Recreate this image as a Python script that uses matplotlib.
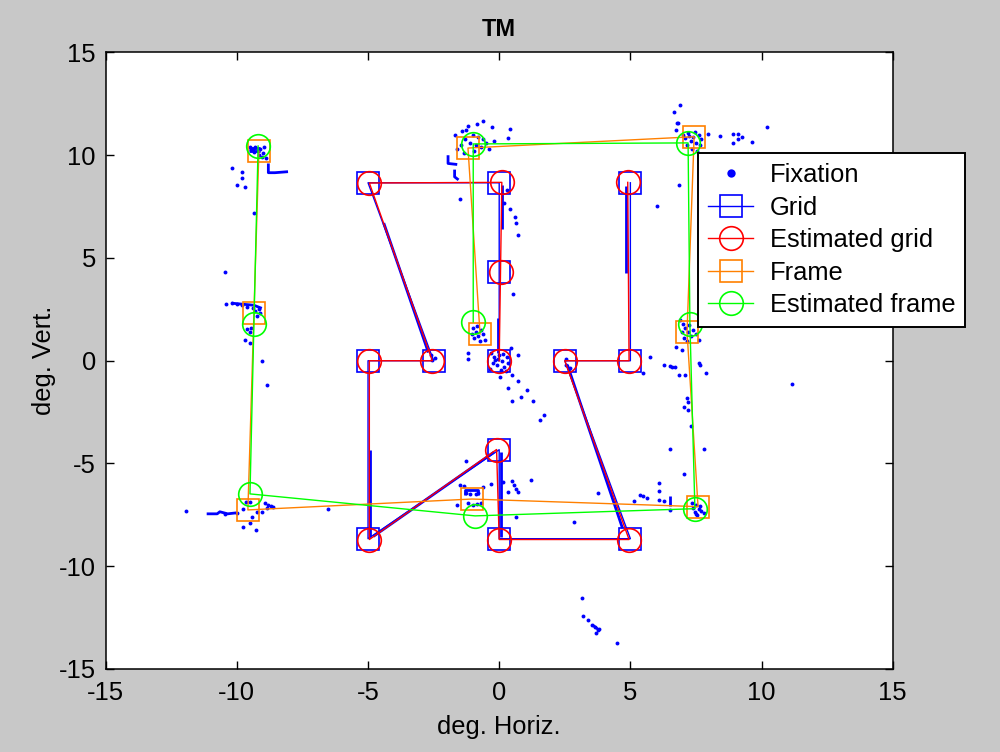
import matplotlib
matplotlib.use("Agg")
import matplotlib.pyplot as plt
from matplotlib.lines import Line2D

plt.rcParams['font.family'] = ['Liberation Sans', 'DejaVu Sans']
plt.rcParams['axes.unicode_minus'] = False

# ---------------- data ----------------
title = "TM"
xlabel = "deg. Horiz."
ylabel = "deg. Vert."
ticks = [-15, -10, -5, 0, 5, 10, 15]

grid_x = [0, 0, 0, -5, -2.5, -5, -5, 0, 0, 5, 2.5, 5, 5]
grid_y = [0, 4.33, 8.66, 8.66, 0, 0, -8.66, -4.33, -8.66, -8.66, 0, 0, 8.66]

est_grid_x = [0.0, 0.05, 0.1, -4.95, -2.55, -4.95, -4.95, -0.1, 0.0, 4.95, 2.5, 4.95, 4.9]
est_grid_y = [0.0, 4.33, 8.68, 8.65, 0.0, 0.0, -8.7, -4.32, -8.7, -8.7, 0.0, 0.0, 8.68]

frame_x = [-9.16, -9.35, -9.58, -1.04, 7.58, 7.16, 7.43, -1.19, -0.73]
frame_y = [10.2, 2.32, -7.26, -6.73, -7.1, 1.4, 10.9, 10.35, 1.3]

est_frame_x = [-9.19, -9.35, -9.5, -0.92, 7.46, 7.27, 7.2, -0.99, -0.99]
est_frame_y = [10.45, 1.79, -6.48, -7.55, -7.2, 1.79, 10.6, 10.55, 1.89]

fix_pts = [
    # top-left cluster
    (-9.5, 10.4), (-9.4, 10.3), (-9.3, 10.4), (-9.2, 10.2), (-9.1, 10.3), (-9.0, 10.1),
    (-9.35, 10.15), (-9.45, 10.25), (-8.95, 10.4), (-9.05, 9.9), (-9.15, 10.0), (-8.9, 9.85),
    (-10.2, 9.4), (-9.8, 9.2), (-9.8, 8.9), (-10.0, 8.55), (-9.7, 8.45), (-9.35, 7.2),
    (-10.45, 4.3), (-9.05, 0.0), (-9.5, 0.85), (-8.85, -1.2),
    # middle-left cluster
    (-10.2, 2.8), (-10.0, 2.75), (-9.8, 2.7), (-9.6, 2.6), (-9.4, 2.55), (-9.3, 2.4),
    (-9.15, 2.5), (-9.1, 2.3), (-9.25, 2.2), (-9.6, 1.55), (-9.5, 1.4), (-9.45, 1.6),
    (-9.7, 1.0), (-10.4, 2.75),
    # bottom-left cluster
    (-11.95, -7.3), (-10.45, -7.45), (-10.0, -7.4), (-9.77, -7.2), (-9.65, -6.87), (-9.5, -6.87),
    (-9.42, -7.6), (-9.23, -7.35), (-9.04, -7.35), (-9.5, -7.9), (-9.77, -8.1), (-9.27, -8.25),
    (-8.93, -6.9), (-8.8, -7.0), (-8.7, -7.05), (-8.62, -7.1), (-8.85, -7.15), (-6.53, -7.2),
    # top-middle cluster
    (-0.6, 11.65), (-0.27, 11.35), (0.4, 11.3), (0.33, 10.85), (-1.4, 11.2), (-1.2, 11.4),
    (-1.0, 11.0), (-0.8, 10.9), (-1.3, 10.8), (-1.1, 10.6), (-0.9, 10.5), (-0.7, 10.4),
    (-0.5, 10.6), (-0.4, 10.3), (-1.45, 10.5), (-1.6, 10.3), (-1.35, 10.1), (-0.95, 10.2),
    (-0.6, 10.8), (-1.7, 11.0), (-0.2, 10.7), (-1.25, 11.25), (-0.85, 11.5), (-1.5, 7.85),
    # near (0, 8.66)
    (0.2, 7.7), (0.4, 7.4), (0.6, 7.0), (0.65, 6.7), (0.7, 6.1), (0.52, 3.25), (0.3, 8.3),
    # top-right cluster
    (7.0, 11.0), (7.2, 11.1), (7.4, 10.9), (7.6, 11.0), (7.3, 10.7), (7.5, 10.6), (7.7, 10.8),
    (7.15, 10.5), (7.35, 10.3), (7.55, 10.2), (7.1, 10.85), (7.45, 11.15), (7.25, 10.95),
    (7.65, 10.5), (6.9, 12.45), (6.65, 12.1), (6.8, 11.55), (6.75, 11.25), (7.95, 11.05),
    (8.4, 10.95), (8.9, 11.05), (9.1, 11.05), (9.25, 10.9), (9.1, 10.8), (8.9, 10.6),
    (9.65, 10.65), (10.2, 11.35), (6.85, 8.55), (6.0, 7.55), (6.77, 11.55),
    # middle-right cluster
    (6.9, 2.0), (7.0, 1.8), (7.1, 1.6), (7.2, 1.4), (7.3, 1.2), (7.4, 1.5), (7.5, 1.3),
    (7.05, 1.1), (6.95, 1.4), (7.25, 1.75), (7.15, 0.95), (7.6, 1.0), (6.75, 0.65),
    (6.95, 0.5), (6.6, -0.3), (7.6, -0.1), (5.75, 0.2),
    # right side scattered
    (5.5, -0.6), (6.3, -0.2), (6.5, -0.25), (6.7, -0.3), (6.85, -0.7), (7.1, -0.7),
    (7.65, -0.2), (7.9, -0.6), (7.15, -1.8), (7.2, -2.0), (7.05, -2.25), (7.2, -2.4),
    (7.3, -3.2), (6.5, -4.3), (7.8, -4.3), (7.05, -5.5), (6.1, -5.95), (6.1, -6.35),
    (5.35, -6.55), (5.5, -6.6), (5.65, -6.7), (5.15, -6.85), (6.1, -6.8), (6.3, -6.85),
    (6.5, -7.25), (11.15, -1.15),
    # bottom-right cluster
    (7.35, -6.9), (7.5, -7.0), (7.6, -7.2), (7.45, -7.35), (7.55, -7.5), (7.7, -7.3),
    (7.4, -7.15), (7.65, -7.05), (7.5, -7.45), (7.8, -7.4),
    # centre cluster
    (-0.3, 0.4), (-0.2, 0.2), (0.0, 0.3), (0.1, 0.0), (-0.1, -0.2), (0.2, -0.3),
    (-0.25, -0.1), (0.3, 0.2), (0.05, -0.45), (-0.15, 0.05), (0.15, 0.35), (0.35, -0.1),
    (-0.05, 0.1), (0.25, -0.5), (-0.35, -0.4), (-1.2, 0.4), (-1.2, 0.1), (0.03, -0.8),
    (0.5, -0.7), (0.7, -1.0), (0.35, -1.35), (1.05, -1.4), (0.85, -1.75), (0.5, -1.95),
    (1.3, -1.95), (1.7, -2.65), (1.55, -2.9), (0.45, 0.6), (0.7, 0.3),
    # centre-frame cluster
    (-1.0, 1.6), (-0.9, 1.4), (-0.8, 1.2), (-0.7, 1.5), (-0.6, 1.3), (-0.95, 1.1),
    (-0.75, 0.95), (-0.55, 1.0), (-1.05, 1.3), (-0.85, 1.7),
    # grid targets
    (-2.6, 0.3), (-2.45, 0.15), (-2.55, 0.05), (2.55, 0.1), (2.55, -0.2), (2.7, -0.35),
    # bottom middle
    (-1.25, -4.9), (0.15, -5.9), (0.5, -5.85), (0.55, -6.05), (0.65, -6.25), (0.7, -6.4),
    (1.2, -5.8), (0.35, -6.4), (0.65, -7.6), (2.85, -7.85), (3.75, -6.45), (-1.6, -7.0),
    (-1.5, -6.05), (-1.35, -6.1), (-0.6, -6.15), (-0.3, -6.0),
    (-1.25, -6.45), (-1.1, -6.5), (-0.9, -6.5), (-0.8, -6.45), (-1.2, -6.9), (-1.0, -7.0),
    (-0.85, -6.95), (-0.7, -6.9),
    # stray bottom
    (3.15, -11.55), (3.2, -12.4), (3.4, -12.6), (3.55, -12.85), (3.65, -12.95),
    (3.75, -13.1), (3.8, -13.05), (3.7, -13.25), (4.5, -13.75),
]
fix_x = [p[0] for p in fix_pts]
fix_y = [p[1] for p in fix_pts]

# dense fixation sample runs (drawn as strokes)
fix_trails = [
    [(0.12, 8.55), (0.12, 6.4)],
    [(-0.05, 2.1), (-0.05, 0.4)],
    [(4.85, 8.5), (4.85, 4.25)],
    [(-4.4, 6.7), (-2.7, 0.4)],
    [(-4.92, -4.35), (-4.92, -8.6)],
    [(0.05, -4.45), (0.05, -8.6)],
    [(-4.8, -8.55), (-0.2, -4.45)],
    [(2.6, -0.2), (4.7, -8.15)],
    [(-8.8, 9.6), (-8.8, 9.15), (-8.55, 9.15), (-8.05, 9.2)],
    [(-11.15, -7.45), (-10.75, -7.45), (-10.65, -7.35), (-10.35, -7.45), (-10.0, -7.4)],
    [(-10.2, 2.8), (-9.35, 2.7), (-9.05, 2.55)],
    [(3.55, -12.85), (3.8, -13.1)],
    [(-9.55, 10.35), (-9.1, 10.35)],
    [(-9.55, 10.2), (-9.1, 10.2)],
    [(-1.95, 10.0), (-1.95, 9.6), (-1.6, 9.55)],
    [(-1.7, 9.3), (-1.7, 8.95), (-1.55, 8.8)],
    [(6.5, -6.6), (6.5, -7.05)],
    [(-1.3, -6.55), (-1.3, -6.3), (-0.8, -6.3), (-0.8, -6.55)],
]

labels = ["Fixation", "Grid", "Estimated grid", "Frame", "Estimated frame"]

# ---------------- figure ----------------
BLUE, RED, ORANGE, GREEN = "#0000ff", "#ff0000", "#ff8000", "#00ff00"
FS = 18.4

fig = plt.figure(figsize=(10.0, 7.52), dpi=100, facecolor="#c8c8c8")
ax = fig.add_axes([0.1057, 0.1104, 0.787, 0.8198])
ax.set_facecolor("white")

for tr in fix_trails:
    ax.plot([p[0] for p in tr], [p[1] for p in tr], color=BLUE, lw=2.0,
            solid_capstyle="butt", zorder=1)
ax.plot(fix_x, fix_y, linestyle="none", marker="o", ms=2.8, mew=0,
        color=BLUE, zorder=1)

ax.plot(grid_x, grid_y, color=BLUE, lw=1.0, marker="s", ms=15.5, mfc="none",
        mew=1.2, zorder=2)
ax.plot(est_grid_x, est_grid_y, color=RED, lw=1.0, marker="o", ms=17, mfc="none",
        mew=1.2, zorder=3)
ax.plot(frame_x, frame_y, color=ORANGE, lw=1.0, marker="s", ms=15.5, mfc="none",
        mew=1.2, zorder=4)
ax.plot(est_frame_x, est_frame_y, color=GREEN, lw=1.0, marker="o", ms=17, mfc="none",
        mew=1.2, zorder=5)

ax.set_xlim(-15, 15)
ax.set_ylim(-15, 15)
ax.set_xticks(ticks)
ax.set_yticks(ticks)
ax.tick_params(direction="in", length=5.5, width=1.0, top=True, right=True,
               labelsize=FS, colors="black")
ax.tick_params(axis="x", pad=9)
ax.tick_params(axis="y", pad=7)
for s in ax.spines.values():
    s.set_linewidth(1.1)
    s.set_color("black")

ax.set_title(title, fontsize=17, fontweight="bold", pad=12)
ax.set_xlabel(xlabel, fontsize=FS, labelpad=7)
ax.set_ylabel(ylabel, fontsize=FS, labelpad=2)

handles = [
    Line2D([], [], linestyle="none", marker="o", ms=6, mew=0, color=BLUE),
    Line2D([], [], color=BLUE, lw=1.0, marker="s", ms=15.5, mfc="none", mew=1.2),
    Line2D([], [], color=RED, lw=1.0, marker="o", ms=17, mfc="none", mew=1.2),
    Line2D([], [], color=ORANGE, lw=1.0, marker="s", ms=15.5, mfc="none", mew=1.2),
    Line2D([], [], color=GREEN, lw=1.0, marker="o", ms=17, mfc="none", mew=1.2),
]
leg = fig.legend(handles, labels, loc="upper left",
                 bbox_to_anchor=(0.698, 1 - 153 / 752), bbox_transform=fig.transFigure,
                 fontsize=FS, frameon=True, fancybox=False, borderaxespad=0,
                 borderpad=0.4, handlelength=1.75, handletextpad=0.65,
                 labelspacing=0.33, numpoints=1)
leg.get_frame().set_edgecolor("black")
leg.get_frame().set_linewidth(1.4)
leg.get_frame().set_facecolor("white")
leg.get_frame().set_alpha(1.0)
leg.set_zorder(10)

fig.savefig("out.png", dpi=100, facecolor=fig.get_facecolor())
